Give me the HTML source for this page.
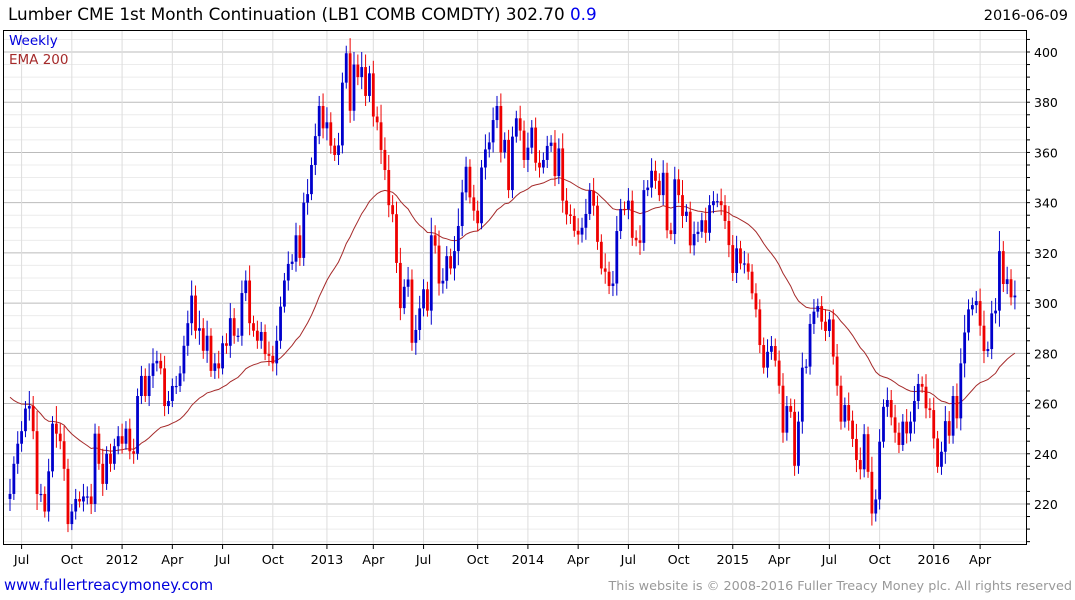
<!DOCTYPE html>
<html><head><meta charset="utf-8"><style>
body{margin:0;background:#fff}
svg{display:block;font-family:"DejaVu Sans","Liberation Sans",sans-serif}
</style></head><body>
<svg id="chart" width="1075" height="600" viewBox="0 0 1075 600">
<text x="8" y="20" font-size="16.8" fill="#000">Lumber CME 1st Month Continuation (LB1 COMB COMDTY) 302.70 <tspan fill="#0000ee">0.9</tspan></text>
<text x="1068" y="20" font-size="14.5" text-anchor="end" fill="#000">2016-06-09</text>
<g id="grid"></g>
<g id="marks"></g>
<rect x="3.5" y="30.5" width="1023" height="514" fill="none" stroke="#000" stroke-width="1"/>
<g id="axes"></g>
<text x="9" y="45" font-size="13.5" fill="#0000dd">Weekly</text>
<text x="9" y="64" font-size="13.5" fill="#a52a2a">EMA 200</text>
<text x="4" y="590" font-size="14.8" fill="#0000dd">www.fullertreacymoney.com</text>
<text x="1072" y="590" font-size="12.8" text-anchor="end" fill="#999">This website is © 2008-2016 Fuller Treacy Money plc. All rights reserved</text>
</svg>
<script>
const closes=[224,236,244,249,258,259,249,224,224,217,233,252,248,245,234,212,217,222,221,223,223,220,248,236,228,240,236,243,247,244,250,241,240,263,271,263,271,276,277,274,259,261,267,267,272,283,292,303,289,290,281,287,273,276,274,284,283,294,287,287,304,309,292,289,285,
288.5,279.7,279,276,285,298.6,309,315.6,316.5,327,318,340,343.4,355,366.5,378.5,369.6,372,362.7,359,362.8,387.8,399.5,376.6,395,390,394,382.5,391.5,374.3,372,361,353,339,335.4,316,298,306.5,309.4,284.2,289.3,297.9,305.5,297,327,322.9,307.8,308.9,318.7,313.8,320.7,330.7,344.1,354.3,342.1,336.8,331.8,354,361.2,364,372.9,378.5,360,365,345,
366.3,373.6,368.7,357,361.9,369.9,355.9,354,357,362.6,363.9,350.6,361.6,340.8,335.3,334.7,328.8,327.3,330,335.5,344.8,338.8,324.4,313.8,312.5,306.8,307.8,328.7,337.5,337.4,340.8,326,325,324,345,346,352.7,348.7,343,351.9,329,327.5,349.3,343,334.7,336.4,323,327.5,328.4,333,328,339,340.6,340.6,339,332.7,323.1,312,321.8,315.8,315.8,312.5,303.9,297.5,
283.3,274.3,280.6,282.9,277.1,267.1,248.4,259,256.7,235.2,252.8,274.3,274.7,291.7,296.6,298.8,292.6,288.9,293.5,278.7,267.1,252.8,259.4,253.2,245.9,237.5,233.8,247.8,232.8,216.2,221.8,244.8,258.7,261.4,254.5,248.4,243.5,252.8,248.1,252.8,261,267.8,266.7,258.1,257.4,246.1,234.8,240.8,253,247.2,263,254.1,276,288.3,297.5,299.2,300.8,291,280.9,281.7,295.9,297,320.7,307.6,309.5,302.3,303];
const wicks=[6,3,5,4,3,6,4,8,4,3,5,3,7,4,6,4,3,4,3,5,4,5,4,3,6,3,4,3,4,5,3,4,5,3,4,3,5,6,4,3,5,4,3,4,3,4,5,6,4,7,4,6,3,4,5,3,4,6,4,3,5,4,6,3,4,
4,3,5,4,6,4,3,5,3,5,4,4,6,3,5,4,5,6,4,3,5,4,3,6,5,4,6,5,3,5,4,7,5,6,4,5,6,3,5,4,6,5,4,3,7,4,6,5,4,3,6,7,5,4,3,5,4,3,6,4,5,4,5,3,4,
4,3,5,4,6,3,4,5,3,4,3,5,4,6,5,4,3,5,4,6,3,5,4,3,6,4,5,6,4,3,5,4,3,6,4,3,5,4,3,5,4,3,5,4,6,3,4,5,4,3,5,4,4,3,5,4,6,4,5,3,5,4,3,4,
4,3,5,4,3,4,5,4,3,5,4,6,3,4,5,3,4,5,3,4,5,4,3,5,4,6,5,4,3,6,4,5,3,5,4,5,4,3,5,4,6,4,3,5,4,5,3,4,6,4,4,5,6,7,4,3,4,5,6,3,5,5,8,4,5,4,6];
const yTicks=[220,240,260,280,300,320,340,360,380,400];
const xTickLabels=["Jul","Oct","2012","Apr","Jul","Oct","2013","Apr","Jul","Oct","2014","Apr","Jul","Oct","2015","Apr","Jul","Oct","2016","Apr"];
const xTickWeeks=[3,16,29,42,55,68,82,94,107,121,134,147,160,173,187,199,212,225,239,251];

const NS="http://www.w3.org/2000/svg";
const X0=10,DX=3.865;
const xs=i=>X0+i*DX;
const ys=p=>52+(400-p)*2.511;
function mk(tag,attrs,parent){const e=document.createElementNS(NS,tag);for(const k in attrs)e.setAttribute(k,attrs[k]);parent.appendChild(e);return e;}
const grid=document.getElementById('grid'),marks=document.getElementById('marks'),axes=document.getElementById('axes');
for(let p=205;p<=410;p+=5){const y=ys(p);if(y<31||y>544)continue;
 const major=p%20===0;
 const l=mk('line',{x1:4,x2:1026,y1:y,y2:y,stroke:major?'#bbb':'#ececec','stroke-width':1},grid);
 
 
 const t=mk('line',{x1:1026,x2:1030,y1:y,y2:y,stroke:'#000'},axes);
 
 
}
yTicks.forEach(v=>{const t=mk('text',{x:1034,y:ys(v)+5,'font-size':12.5,fill:'#000'},axes);t.textContent=v;
 
 });
xTickLabels.forEach((s,k)=>{const x=xs(xTickWeeks[k]);
 const g=mk('line',{x1:x,x2:x,y1:31,y2:544,stroke:'#ddd'},grid);
 
 
 const tk=mk('line',{x1:x,x2:x,y1:544,y2:549,stroke:'#000'},axes);
 
 
 const t=mk('text',{x:x,y:564,'font-size':12.8,'text-anchor':'middle',fill:'#000'},axes);t.textContent=s;
 
 });
let ema=264.5;const pts=[];const a=2/41;
closes.forEach((c,i)=>{ema=ema+a*(c-ema);pts.push(xs(i).toFixed(1)+','+ys(ema).toFixed(1));});
const pl=mk('polyline',{points:pts.join(' '),fill:'none',stroke:'#a52a2a','stroke-width':1},marks);


closes.forEach((c,i)=>{const o=i===0?222:closes[i-1];const w=wicks[i]||4;
 const hi=Math.max(o,c)+w,lo=Math.min(o,c)-w*0.8;const col=c>=o?'#0000cc':'#ee0000';const x=xs(i);
 const wl=mk('line',{x1:x,x2:x,y1:ys(hi),y2:ys(lo),stroke:col,'stroke-width':1},marks);
 
 
 const top=ys(Math.max(o,c)),bh=Math.max(1.2,ys(Math.min(o,c))-top);
 const r=mk('rect',{x:x-1.4,y:top,width:2.8,height:bh,fill:col},marks);
 
 
});
</script>
</body></html>
